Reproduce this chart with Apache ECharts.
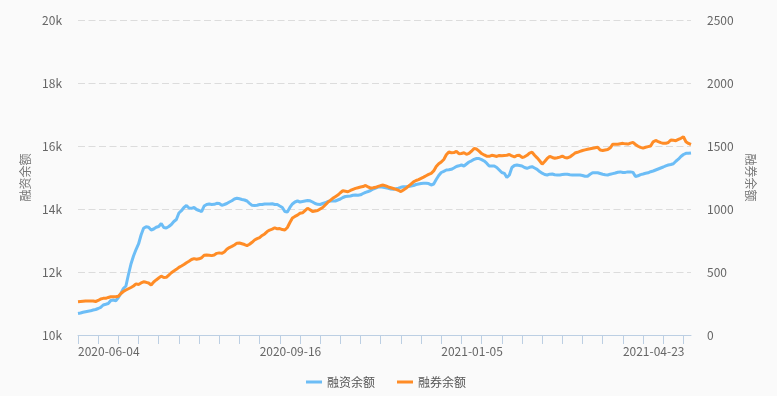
<!DOCTYPE html>
<html>
<head>
<meta charset="utf-8">
<script src="https://cdn.jsdelivr.net/npm/echarts@6/dist/echarts.min.js"></script>
<style>
html,body{margin:0;padding:0;background:#fafafa;}
#chart{width:777px;height:396px;}
</style>
</head>
<body>
<div id="chart"></div>
<script>
// Trading-day categories
const dates = [
"2020-06-04","2020-06-05","2020-06-08","2020-06-09","2020-06-10","2020-06-11","2020-06-12","2020-06-15","2020-06-16","2020-06-17","2020-06-18","2020-06-19","2020-06-22","2020-06-23","2020-06-24","2020-06-29","2020-06-30",
"2020-07-01","2020-07-02","2020-07-03","2020-07-06","2020-07-07","2020-07-08","2020-07-09","2020-07-10","2020-07-13","2020-07-14","2020-07-15","2020-07-16","2020-07-17","2020-07-20","2020-07-21","2020-07-22","2020-07-23","2020-07-24","2020-07-27","2020-07-28","2020-07-29","2020-07-30","2020-07-31",
"2020-08-03","2020-08-04","2020-08-05","2020-08-06","2020-08-07","2020-08-10","2020-08-11","2020-08-12","2020-08-13","2020-08-14","2020-08-17","2020-08-18","2020-08-19","2020-08-20","2020-08-21","2020-08-24","2020-08-25","2020-08-26","2020-08-27","2020-08-28","2020-08-31",
"2020-09-01","2020-09-02","2020-09-03","2020-09-04","2020-09-07","2020-09-08","2020-09-09","2020-09-10","2020-09-11","2020-09-14","2020-09-15","2020-09-16","2020-09-17","2020-09-18","2020-09-21","2020-09-22","2020-09-23","2020-09-24","2020-09-25","2020-09-28","2020-09-29","2020-09-30",
"2020-10-09","2020-10-12","2020-10-13","2020-10-14","2020-10-15","2020-10-16","2020-10-19","2020-10-20","2020-10-21","2020-10-22","2020-10-23","2020-10-26","2020-10-27","2020-10-28","2020-10-29","2020-10-30",
"2020-11-02","2020-11-03","2020-11-04","2020-11-05","2020-11-06","2020-11-09","2020-11-10","2020-11-11","2020-11-12","2020-11-13","2020-11-16","2020-11-17","2020-11-18","2020-11-19","2020-11-20","2020-11-23","2020-11-24","2020-11-25","2020-11-26","2020-11-27","2020-11-30",
"2020-12-01","2020-12-02","2020-12-03","2020-12-04","2020-12-07","2020-12-08","2020-12-09","2020-12-10","2020-12-11","2020-12-14","2020-12-15","2020-12-16","2020-12-17","2020-12-18","2020-12-21","2020-12-22","2020-12-23","2020-12-24","2020-12-25","2020-12-28","2020-12-29","2020-12-30","2020-12-31",
"2021-01-04","2021-01-05","2021-01-06","2021-01-07","2021-01-08","2021-01-11","2021-01-12","2021-01-13","2021-01-14","2021-01-15","2021-01-18","2021-01-19","2021-01-20","2021-01-21","2021-01-22","2021-01-25","2021-01-26","2021-01-27","2021-01-28","2021-01-29",
"2021-02-01","2021-02-02","2021-02-03","2021-02-04","2021-02-05","2021-02-08","2021-02-09","2021-02-10","2021-02-18","2021-02-19","2021-02-22","2021-02-23","2021-02-24","2021-02-25","2021-02-26",
"2021-03-01","2021-03-02","2021-03-03","2021-03-04","2021-03-05","2021-03-08","2021-03-09","2021-03-10","2021-03-11","2021-03-12","2021-03-15","2021-03-16","2021-03-17","2021-03-18","2021-03-19","2021-03-22","2021-03-23","2021-03-24","2021-03-25","2021-03-26","2021-03-29","2021-03-30","2021-03-31",
"2021-04-01","2021-04-02","2021-04-06","2021-04-07","2021-04-08","2021-04-09","2021-04-12","2021-04-13","2021-04-14","2021-04-15","2021-04-16","2021-04-19","2021-04-20","2021-04-21","2021-04-22","2021-04-23","2021-04-26","2021-04-27","2021-04-28","2021-04-29","2021-04-30",
"2021-05-06","2021-05-07","2021-05-10","2021-05-11","2021-05-12","2021-05-13","2021-05-14","2021-05-17","2021-05-18","2021-05-19","2021-05-20","2021-05-21","2021-05-24","2021-05-25","2021-05-26","2021-05-27","2021-05-28","2021-05-31",
"2021-06-01","2021-06-02","2021-06-03","2021-06-04"
];

// 融资余额 (left axis)
const rzye = [
10683,10698,10721,10740,10756,10768,10794,10810,10841,10879,
10952,10975,11000,11095,11111,11089,11190,11317,11476,11556,
11921,12254,12508,12714,12889,13175,13387,13438,13419,13333,
13365,13419,13444,13540,13413,13397,13444,13508,13603,13667,
13873,13946,14048,14111,14032,14022,14048,13984,13952,13914,
14095,14143,14159,14143,14149,14181,14175,14117,14143,14175,
14222,14263,14317,14340,14324,14302,14286,14254,14181,14117,
14108,14121,14143,14143,14159,14159,14159,14168,14143,14143,
14095,14048,13921,13905,14048,14159,14222,14254,14222,14238,
14254,14270,14260,14222,14175,14149,14143,14175,14197,14238,
14254,14254,14254,14286,14317,14365,14397,14406,14413,14435,
14444,14438,14451,14492,14530,14556,14587,14635,14667,14698,
14705,14689,14673,14660,14635,14629,14644,14660,14689,14708,
14705,14711,14730,14746,14778,14794,14810,14816,14816,14806,
14762,14794,14937,15063,15159,15197,15238,15244,15260,15302,
15349,15371,15397,15365,15429,15492,15530,15575,15603,15600,
15568,15524,15454,15365,15365,15365,15317,15238,15159,15133,
15000,15079,15317,15381,15397,15381,15365,15317,15292,15324,
15343,15302,15260,15190,15137,15095,15079,15105,15111,15086,
15079,15079,15092,15105,15102,15086,15079,15079,15079,15079,
15063,15038,15041,15102,15152,15152,15152,15127,15102,15089,
15079,15105,15124,15143,15168,15178,15159,15162,15178,15178,
15162,15032,15054,15092,15111,15133,15149,15184,15206,15238,
15270,15302,15333,15371,15397,15413,15438,15517,15581,15667,
15730,15768,15768,15778
];

// 融券余额 (right axis)
const rqye = [
264,266,268,270,270,270,270,266,274,286,
291,291,298,304,304,304,308,329,345,357,
367,377,389,406,401,413,422,418,413,397,
421,437,452,467,456,458,476,494,508,521,
537,548,560,574,586,599,606,601,605,613,
633,635,633,630,635,648,652,648,659,680,
694,703,714,729,730,724,718,710,720,736,
754,765,773,790,802,821,833,840,851,843,
845,837,833,853,893,929,941,951,966,970,
988,1006,994,980,984,988,1000,1012,1032,1052,
1068,1085,1098,1111,1129,1145,1141,1137,1147,1156,
1164,1169,1174,1178,1187,1175,1165,1168,1172,1179,
1186,1190,1183,1175,1169,1163,1156,1149,1138,1151,
1164,1181,1198,1216,1226,1233,1243,1253,1264,1275,
1283,1302,1337,1359,1373,1393,1430,1452,1446,1448,
1458,1439,1441,1446,1434,1441,1459,1480,1476,1459,
1440,1429,1419,1418,1426,1422,1417,1425,1422,1425,
1427,1433,1421,1414,1425,1426,1409,1414,1426,1444,
1451,1427,1406,1383,1356,1377,1401,1418,1409,1403,
1407,1412,1420,1409,1405,1413,1428,1444,1450,1457,
1464,1469,1474,1478,1482,1486,1490,1468,1465,1469,
1472,1486,1514,1514,1514,1518,1521,1517,1515,1523,
1529,1512,1498,1489,1483,1490,1495,1500,1533,1544,
1535,1527,1521,1521,1528,1548,1545,1542,1552,1561,
1573,1534,1520,1512
];

const seriesNames = ["融资余额", "融券余额"];

const font = "'Noto Sans CJK SC', 'Liberation Sans', sans-serif";
const chart = echarts.init(document.getElementById('chart'), null, {renderer: 'canvas'});
chart.setOption({
  backgroundColor: '#fafafa',
  animation: false,
  textStyle: {fontFamily: font},
  grid: {left: 78, right: 86, top: 20, bottom: 61, containLabel: false},
  legend: {
    data: seriesNames,
    left: 301,
    top: 371,
    icon: 'rect',
    itemWidth: 16,
    itemHeight: 3,
    itemGap: 22,
    textStyle: {color: '#555', fontSize: 12, fontFamily: font}
  },
  xAxis: {
    type: 'category',
    data: dates,
    boundaryGap: false,
    axisLine: {lineStyle: {color: '#bccfe3', width: 1}},
    axisTick: {show: true, interval: 7, length: 9, lineStyle: {color: '#bccfe3'}},
    axisLabel: {interval: 71, align: 'left', color: '#666', fontSize: 12, margin: 10, fontFamily: font},
    splitLine: {show: false}
  },
  yAxis: [
    {
      type: 'value',
      min: 10000, max: 20000, interval: 2000,
      name: seriesNames[0],
      nameLocation: 'middle',
      nameGap: 45,
      nameTextStyle: {color: '#777', fontSize: 12, fontFamily: font},
      axisLine: {show: false},
      axisTick: {show: false},
      axisLabel: {color: '#666', fontSize: 12, margin: 16, fontFamily: font,
        formatter: function (v) { return (v / 1000) + 'k'; }},
      splitLine: {show: true, lineStyle: {color: '#dcdcdc', type: [7, 3.5]}}
    },
    {
      type: 'value',
      min: 0, max: 2500, interval: 500,
      name: seriesNames[1],
      nameLocation: 'middle',
      nameRotate: -90,
      nameGap: 47,
      nameTextStyle: {color: '#777', fontSize: 12, fontFamily: font},
      axisLine: {show: false},
      axisTick: {show: false},
      axisLabel: {color: '#666', fontSize: 12, margin: 16, fontFamily: font,
        formatter: function (v) { return String(v); }},
      splitLine: {show: false}
    }
  ],
  series: [
    {
      name: seriesNames[0],
      type: 'line',
      yAxisIndex: 0,
      data: rzye,
      showSymbol: false,
      symbol: 'none',
      itemStyle: {color: '#6cbdf6'},
      lineStyle: {color: '#6cbdf6', width: 3}
    },
    {
      name: seriesNames[1],
      type: 'line',
      yAxisIndex: 1,
      data: rqye,
      showSymbol: false,
      symbol: 'none',
      itemStyle: {color: '#ff8c26'},
      lineStyle: {color: '#ff8c26', width: 3}
    }
  ]
});
</script>
</body>
</html>
